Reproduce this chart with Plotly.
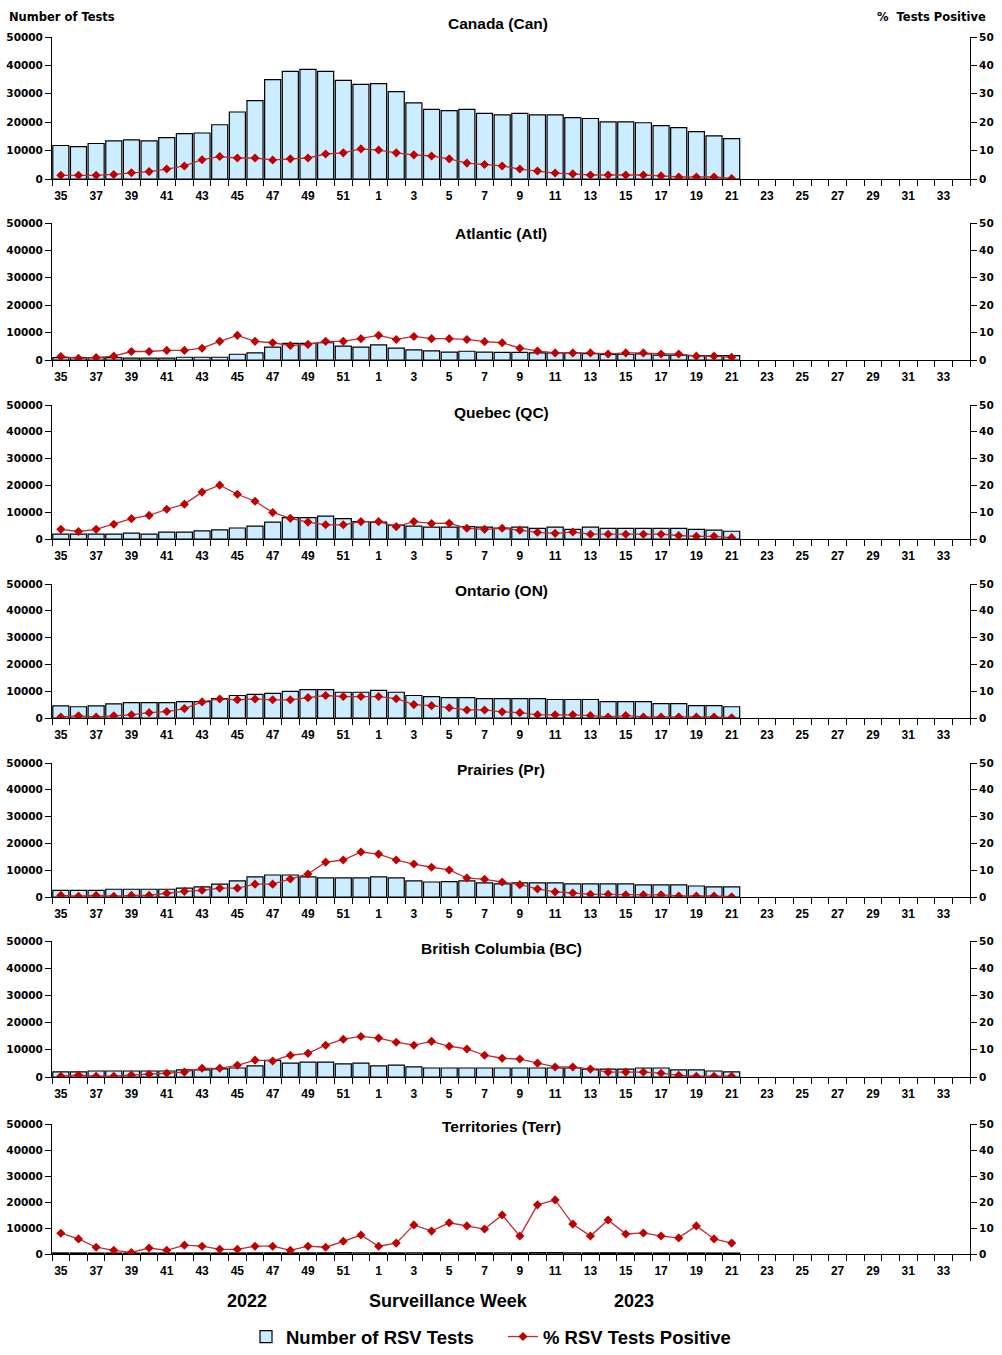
import plotly.graph_objects as go

# ---------------- data ----------------
weeks = [35, 36, 37, 38, 39, 40, 41, 42, 43, 44, 45, 46, 47, 48, 49, 50, 51, 52,
         1, 2, 3, 4, 5, 6, 7, 8, 9, 10, 11, 12, 13, 14, 15, 16, 17, 18, 19, 20,
         21, 22, 23, 24, 25, 26, 27, 28, 29, 30, 31, 32, 33, 34]
week_labels = [str(w) for w in weeks]

titles = ["Canada (Can)", "Atlantic (Atl)", "Quebec (QC)", "Ontario (ON)",
          "Prairies (Pr)", "British Columbia (BC)", "Territories (Terr)"]

can_tests = [11800, 11400, 12500, 13400, 13800, 13400, 14600, 16000, 16200, 19100,
             23600, 27600, 35000, 37900, 38600, 37900, 34700, 33300,
             33600, 30800, 26800, 24500, 24100, 24500, 23100, 22600, 23100, 22600,
             22600, 21600, 21300, 20100, 20100, 19800, 18800, 18100, 16700, 15200, 14200]
can_pct = [1.3, 1.3, 1.3, 1.6, 2.2, 2.6, 3.5, 4.6, 6.8, 7.9, 7.4, 7.4, 6.7, 7.1,
           7.4, 8.8, 9.2, 10.6, 10.2, 9.2, 8.5, 8.1, 7.1, 5.6, 5.1, 4.6, 3.5, 2.8,
           2.1, 1.8, 1.4, 1.4, 1.4, 1.4, 1.1, 0.7, 0.7, 0.7, 0.2]

atl_tests = [900, 900, 900, 900, 700, 700, 700, 1000, 1000, 1000, 2100, 2600, 4700,
             6100, 6100, 6300, 5100, 4700, 5500, 4300, 3700, 3300, 2900, 3200, 2900,
             2800, 2800, 2600, 2600, 2600, 2300, 2000, 2100, 2200, 1800, 1800, 1600,
             1600, 1600]
atl_pct = [1.3, 0.6, 0.9, 1.4, 3.1, 3.1, 3.5, 3.5, 4.3, 6.8, 9.0, 6.8, 6.3, 5.3,
           5.7, 6.8, 6.8, 7.8, 9.0, 7.5, 8.6, 7.8, 7.8, 7.5, 6.7, 6.3, 4.3, 3.3,
           2.6, 2.6, 2.6, 2.2, 2.6, 2.6, 2.2, 2.2, 1.4, 1.4, 1.0]

qc_tests = [1800, 1800, 1800, 1800, 2200, 1800, 2600, 2600, 3000, 3400, 4100, 4800,
            6300, 8000, 8000, 8500, 7600, 6500, 6300, 5200, 4800, 4400, 4400, 4600,
            4400, 4100, 4400, 4000, 4400, 3600, 4400, 4000, 4000, 4000, 4000, 4000,
            3600, 3300, 2900]
qc_pct = [3.6, 2.8, 3.6, 5.5, 7.6, 8.8, 11.1, 13.0, 17.5, 20.1, 16.7, 14.1, 9.9,
          7.7, 6.3, 5.3, 5.3, 6.5, 6.5, 4.6, 6.5, 5.8, 5.9, 4.0, 3.6, 4.0, 3.3,
          2.5, 2.1, 2.6, 1.8, 1.8, 1.8, 1.8, 1.8, 1.3, 1.0, 1.0, 0.5]

on_tests = [4500, 4200, 4500, 5300, 5700, 5700, 5700, 6100, 6100, 7200, 8400, 8800,
            9200, 9900, 10600, 10600, 9600, 9600, 10300, 9600, 8400, 8000, 7600,
            7600, 7200, 7200, 7200, 7200, 6900, 6900, 6900, 6100, 6100, 6100, 5400,
            5400, 4600, 4600, 4200]
on_pct = [0.4, 0.8, 0.4, 0.8, 1.2, 2.0, 2.4, 3.5, 6.0, 7.1, 6.8, 7.1, 6.8, 6.8,
          7.6, 8.4, 8.0, 8.0, 8.0, 7.2, 5.0, 4.6, 3.8, 3.0, 3.0, 2.3, 2.0, 1.2,
          1.2, 1.2, 0.9, 0.4, 0.9, 0.4, 0.4, 0.4, 0.4, 0.4, 0.1]

pr_tests = [2500, 2500, 2500, 2900, 2900, 2900, 2900, 3300, 3800, 4800, 6000, 7500,
            8200, 8200, 7500, 7100, 7100, 7100, 7500, 7100, 6000, 5600, 5700, 6000,
            5300, 4900, 5300, 5300, 5300, 4900, 4900, 4900, 4900, 4500, 4500, 4500,
            4100, 3800, 3800]
pr_pct = [0.6, 0.3, 0.6, 0.3, 0.6, 0.6, 1.4, 2.1, 2.5, 3.3, 3.3, 4.8, 4.8, 6.7,
          8.6, 13.0, 13.8, 16.8, 16.0, 13.8, 12.3, 11.1, 10.1, 7.1, 6.6, 5.6, 4.6,
          3.0, 1.9, 1.5, 1.0, 1.0, 0.8, 0.8, 0.8, 0.4, 0.4, 0.4, 0.1]

bc_tests = [1900, 1900, 2200, 2200, 2200, 2200, 2200, 2600, 2600, 3000, 3300, 4100,
            6100, 5100, 5500, 5500, 4800, 5100, 4100, 4400, 3700, 3300, 3300, 3300,
            3300, 3300, 3300, 3300, 3300, 3300, 2900, 2900, 2900, 3300, 3300, 2600,
            2600, 2200, 1900]
bc_pct = [0.3, 0.7, 0.3, 0.3, 0.7, 1.0, 1.4, 1.8, 3.2, 3.2, 4.3, 6.2, 5.9, 8.0,
          8.7, 11.7, 13.9, 14.9, 14.3, 12.8, 11.7, 13.1, 11.3, 10.3, 8.0, 6.9, 6.6,
          5.1, 3.7, 3.7, 2.9, 1.8, 1.8, 1.8, 1.4, 0.6, 0.3, 0.3, 0.3]

terr_tests = [420, 400, 380, 360, 350, 380, 370, 400, 420, 390, 410, 430, 450, 420,
              440, 470, 500, 480, 450, 430, 480, 460, 490, 470, 450, 480, 430, 500,
              520, 480, 430, 460, 440, 420, 400, 400, 420, 380, 360]
terr_pct = [8.0, 5.8, 2.6, 1.4, 0.6, 2.3, 1.4, 3.4, 3.0, 1.8, 1.8, 3.0, 3.0, 1.4,
            3.0, 2.6, 4.9, 7.3, 3.0, 4.2, 11.2, 8.8, 12.0, 10.8, 9.6, 15.0, 6.9,
            18.9, 20.8, 11.5, 6.9, 13.1, 7.7, 8.1, 6.9, 6.2, 10.8, 5.8, 4.2]

tests_all = [can_tests, atl_tests, qc_tests, on_tests, pr_tests, bc_tests, terr_tests]
pct_all = [can_pct, atl_pct, qc_pct, on_pct, pr_pct, bc_pct, terr_pct]

left_ticks = [0, 10000, 20000, 30000, 40000, 50000]
right_ticks = [0, 10, 20, 30, 40, 50]

# ---------------- layout geometry (pixels) ----------------
W, H = 1002, 1355
x_left, x_right = 52, 970
panel_px = [(37, 179), (223, 360), (405, 539), (584, 718),
            (763, 897), (941, 1077), (1124, 1254)]
title_px = [(498, 24), (501, 233), (501, 412), (501, 590),
            (501, 769), (501, 948), (501, 1126)]

BAR_FILL = "#CCECFF"
RED = "#C00000"
LINE_RED = "#C8282D"
ARIAL = "Liberation Sans, Arial, sans-serif"
VERD = "DejaVu Sans, Verdana, sans-serif"

xpos = list(range(len(weeks)))

fig = go.Figure()
layout = dict(
    width=W, height=H,
    margin=dict(l=0, r=0, t=0, b=0, autoexpand=False),
    paper_bgcolor="white", plot_bgcolor="white",
    bargap=0.09,
    showlegend=True,
    annotations=[],
)

for i in range(7):
    tests = tests_all[i]
    pct = pct_all[i]
    xa = "x" if i == 0 else f"x{i + 1}"
    yl_n = 2 * i + 1
    yr_n = 2 * i + 2
    yl = "y" if yl_n == 1 else f"y{yl_n}"
    yr = f"y{yr_n}"

    fig.add_trace(go.Bar(
        x=xpos[:len(tests)], y=tests, xaxis=xa, yaxis=yl,
        name="Number of RSV Tests", legendgroup="bars", showlegend=(i == 0),
        marker=dict(color=BAR_FILL, line=dict(color="black", width=1.2)),
    ))
    fig.add_trace(go.Scatter(
        x=xpos[:len(pct)], y=pct, xaxis=xa, yaxis=yr,
        name="% RSV Tests Positive", legendgroup="pct", showlegend=(i == 0),
        mode="lines+markers",
        line=dict(color=LINE_RED, width=1.3),
        marker=dict(symbol="diamond", size=7, color=RED),
    ))

    top, bot = panel_px[i]
    ydom = [1 - bot / H, 1 - top / H]
    xkey = "xaxis" if i == 0 else f"xaxis{i + 1}"
    ylkey = "yaxis" if yl_n == 1 else f"yaxis{yl_n}"
    yrkey = f"yaxis{yr_n}"

    layout[xkey] = dict(
        domain=[x_left / W, x_right / W], anchor=yl, automargin=False,
        range=[-0.5, len(weeks) - 0.5],
        tickmode="array", tickvals=xpos[::2], ticktext=week_labels[::2],
        ticks="outside", ticklen=6, tickcolor="rgba(0,0,0,0)",
        minor=dict(ticks="outside", tickmode="linear", tick0=-0.5, dtick=1,
                   ticklen=6, tickcolor="black", tickwidth=1, showgrid=False),
        showline=True, linecolor="black", linewidth=1,
        showgrid=False, zeroline=False,
        tickfont=dict(family=ARIAL, size=12, color="black", weight="bold"),
    )
    layout[ylkey] = dict(
        domain=ydom, anchor=xa, range=[0, 50000], automargin=False,
        tickmode="array", tickvals=left_ticks,
        ticktext=[str(v) for v in left_ticks],
        ticks="outside", ticklen=6, tickcolor="black",
        showline=True, linecolor="black", linewidth=1,
        showgrid=False, zeroline=False,
        tickfont=dict(family=VERD, size=10.5, color="black", weight="bold"),
    )
    layout[yrkey] = dict(
        overlaying=yl, side="right", anchor=xa, range=[0, 50], automargin=False,
        tickmode="array", tickvals=right_ticks,
        ticktext=[str(v) for v in right_ticks],
        ticks="outside", ticklen=6, tickcolor="black",
        showline=True, linecolor="black", linewidth=1,
        showgrid=False, zeroline=False,
        tickfont=dict(family=VERD, size=10.5, color="black", weight="bold"),
    )

    tx, ty = title_px[i]
    layout["annotations"].append(dict(
        text=titles[i], x=tx / W, y=1 - ty / H, xref="paper", yref="paper",
        xanchor="center", yanchor="middle", showarrow=False,
        font=dict(family=ARIAL, size=15.5, color="black", weight="bold"),
    ))

# axis captions
layout["annotations"] += [
    dict(text="Number of Tests", x=7 / W, y=1 - 17 / H, xref="paper", yref="paper",
         xanchor="left", yanchor="middle", showarrow=False,
         font=dict(family=VERD, size=11.5, color="black", weight="bold")),
    dict(text="%  Tests Positive", x=988 / W, y=1 - 17 / H, xref="paper", yref="paper",
         xanchor="right", yanchor="middle", showarrow=False,
         font=dict(family=VERD, size=11.5, color="black", weight="bold")),
    dict(text="2022", x=247 / W, y=1 - 1301 / H, xref="paper", yref="paper",
         xanchor="center", yanchor="middle", showarrow=False,
         font=dict(family=ARIAL, size=18, color="black", weight="bold")),
    dict(text="Surveillance Week", x=448 / W, y=1 - 1301 / H, xref="paper", yref="paper",
         xanchor="center", yanchor="middle", showarrow=False,
         font=dict(family=ARIAL, size=18, color="black", weight="bold")),
    dict(text="2023", x=634 / W, y=1 - 1301 / H, xref="paper", yref="paper",
         xanchor="center", yanchor="middle", showarrow=False,
         font=dict(family=ARIAL, size=18, color="black", weight="bold")),
]

layout["legend"] = dict(
    orientation="h", x=246 / W, y=1 - 1337 / H, xanchor="left", yanchor="middle",
    bgcolor="rgba(0,0,0,0)", traceorder="normal",
    font=dict(family=ARIAL, size=18.5, color="black", weight="bold"),
    itemwidth=30, entrywidth=212,
)

fig.update_layout(**layout)
fig.write_html("out.html", config={"displayModeBar": False},
               post_script="document.body.style.margin='0';")
